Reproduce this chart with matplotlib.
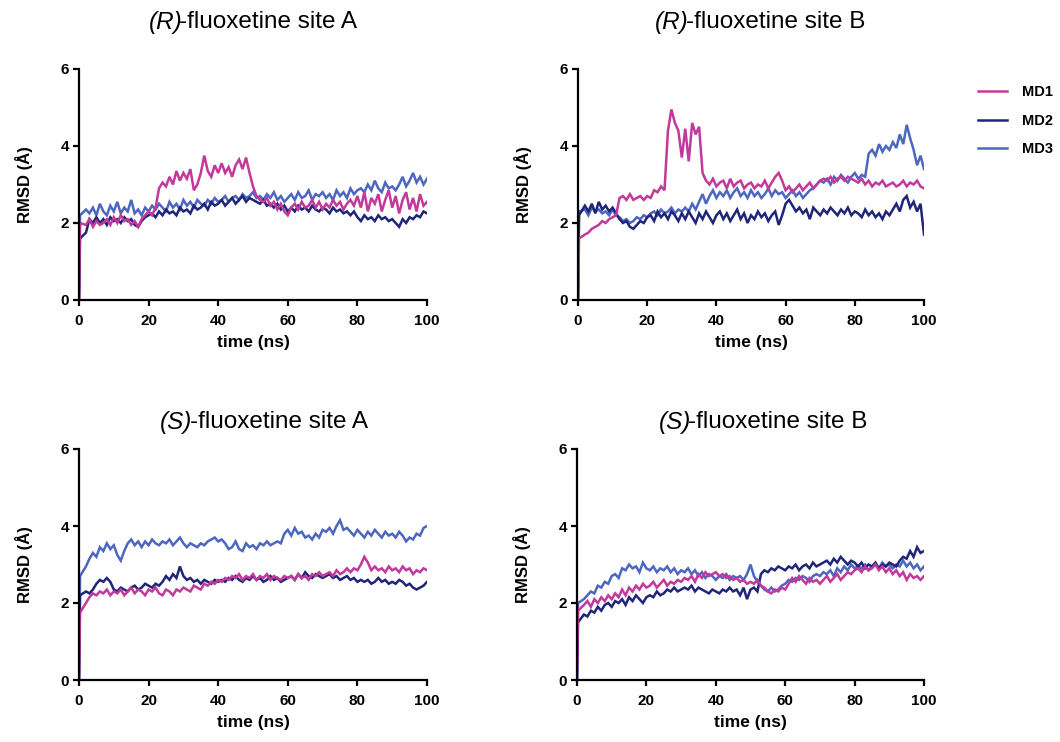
import numpy as np
import matplotlib
matplotlib.use("Agg")
import matplotlib.pyplot as plt
from matplotlib.lines import Line2D

plt.rcParams["font.family"] = ["Liberation Sans", "DejaVu Sans"]

# Simulation time (ns): the trajectory starts at 0 Å and jumps to the first frame
time_ns = [0.0, 0.3] + list(range(2, 101))

# ---- (R)-fluoxetine site A ----
r_a_md1 = [2.0, 1.95, 2.1, 1.9, 2.05, 1.95, 2.0, 2.1, 1.95, 2.15,
           2.0, 2.2, 2.05, 2.1, 1.95, 2.05, 1.9, 2.1, 2.2, 2.3,
           2.2, 2.4, 2.9, 3.05, 2.95, 3.2, 3.0, 3.35, 3.1, 3.3,
           3.15, 3.4, 2.85, 3.0, 3.3, 3.75, 3.35, 3.2, 3.5, 3.3,
           3.55, 3.3, 3.45, 3.2, 3.5, 3.65, 3.4, 3.7, 3.3, 2.95,
           2.7, 2.6, 2.55, 2.65, 2.45, 2.55, 2.35, 2.5, 2.3, 2.2,
           2.4, 2.5, 2.35, 2.55, 2.4, 2.45, 2.6, 2.4, 2.55, 2.35,
           2.5, 2.4, 2.6, 2.45, 2.55, 2.35, 2.5, 2.6, 2.45, 2.7,
           2.4, 2.8, 2.3, 2.65, 2.5, 2.75, 2.3, 2.6, 2.85, 2.4,
           2.7, 2.25, 2.6, 2.8, 2.35, 2.65, 2.3, 2.75, 2.45, 2.55]
r_a_md2 = [1.6, 1.75, 2.1, 2.0, 2.15, 2.0, 2.1, 1.95, 2.15, 2.05,
           2.1, 2.0, 2.15, 2.05, 2.1, 1.95, 1.9, 2.05, 2.15, 2.2,
           2.25, 2.15, 2.3, 2.2, 2.35, 2.25, 2.3, 2.2, 2.4, 2.3,
           2.35, 2.25, 2.45, 2.35, 2.4, 2.5, 2.35, 2.55, 2.45, 2.5,
           2.6, 2.45, 2.55, 2.65, 2.5, 2.6, 2.7, 2.55, 2.65, 2.6,
           2.55, 2.5, 2.6, 2.45, 2.5, 2.4, 2.5, 2.35, 2.45, 2.3,
           2.4, 2.3, 2.45, 2.35, 2.4, 2.3, 2.45, 2.35, 2.3, 2.4,
           2.35, 2.25, 2.4, 2.3, 2.35, 2.25, 2.3, 2.2, 2.3, 2.15,
           2.05, 2.2, 2.1, 2.15, 2.05, 2.2, 2.1, 2.15, 2.05, 2.1,
           2.0, 1.9, 2.1, 2.0, 2.15, 2.1, 2.2, 2.15, 2.3, 2.25]
r_a_md3 = [2.2, 2.35, 2.25, 2.4, 2.2, 2.5, 2.3, 2.2, 2.45, 2.3,
           2.55, 2.25, 2.4, 2.3, 2.6, 2.25, 2.35, 2.2, 2.4, 2.3,
           2.45, 2.35, 2.5, 2.4, 2.3, 2.55, 2.4, 2.5, 2.35, 2.6,
           2.45, 2.55, 2.4, 2.6, 2.5, 2.45, 2.6, 2.5, 2.65, 2.55,
           2.6, 2.7, 2.55, 2.65, 2.7, 2.6, 2.75, 2.65, 2.7, 2.8,
           2.65, 2.7, 2.6, 2.75, 2.65, 2.8, 2.6, 2.7, 2.55, 2.65,
           2.75, 2.6, 2.8, 2.65, 2.7, 2.85, 2.6, 2.75, 2.7, 2.8,
           2.65, 2.75, 2.6, 2.85, 2.7, 2.8, 2.65, 2.9, 2.75, 2.85,
           2.9, 2.8, 3.0, 2.85, 3.1, 2.9, 2.8, 3.05, 2.9, 2.95,
           2.85, 3.0, 3.2, 2.95, 3.1, 3.3, 3.05, 3.2, 3.0, 3.15]

# ---- (R)-fluoxetine site B ----
r_b_md1 = [1.6, 1.7, 1.75, 1.85, 1.9, 1.95, 2.05, 2.0, 2.1, 2.15,
           2.2, 2.65, 2.7, 2.6, 2.75, 2.6, 2.65, 2.7, 2.6, 2.7,
           2.65, 2.85, 2.8, 2.95, 2.85, 4.4, 4.95, 4.6, 4.4, 3.7,
           4.45, 3.6, 4.6, 4.3, 4.5, 3.3, 3.1, 3.0, 3.15, 2.95,
           3.05, 3.1, 2.9, 3.15, 2.95, 3.05, 3.1, 2.9, 3.0, 3.05,
           2.9, 3.0, 2.95, 3.1, 2.9, 3.05, 3.2, 3.3, 3.1, 2.85,
           2.95, 2.8, 2.9, 3.0, 2.85, 2.95, 3.05, 2.9, 3.0, 3.1,
           3.15, 3.1, 3.2, 3.05, 3.15, 3.2, 3.1, 3.2, 3.15, 3.1,
           3.05, 3.15, 3.0, 3.1, 2.95, 3.05, 3.0, 3.1, 2.95, 3.0,
           3.05, 2.95, 3.0, 3.1, 2.95, 3.05, 3.0, 3.1, 2.95, 2.9]
r_b_md2 = [2.2, 2.45, 2.3, 2.5, 2.25, 2.55, 2.35, 2.45, 2.3, 2.4,
           2.25, 2.1, 2.0, 2.05, 1.9, 1.85, 1.95, 2.05, 2.0, 2.15,
           2.2, 2.05, 2.3, 2.15, 2.25, 2.1, 2.3, 2.2, 2.05, 2.25,
           2.1, 2.3, 2.15, 2.0, 2.25, 2.1, 2.3, 2.15, 2.0, 2.2,
           2.3, 2.1, 2.25, 2.05, 2.2, 2.35, 2.1, 2.25, 2.0, 2.2,
           2.1, 2.3, 2.15, 2.25, 2.05, 2.2, 2.3, 1.95, 2.2, 2.5,
           2.6, 2.45, 2.3, 2.4, 2.25, 2.35, 2.1, 2.4, 2.3, 2.2,
           2.35, 2.25, 2.4, 2.3, 2.2, 2.35, 2.25, 2.4, 2.2, 2.3,
           2.25, 2.15, 2.35, 2.2, 2.3, 2.15, 2.25, 2.1, 2.3, 2.2,
           2.35, 2.5, 2.3, 2.6, 2.7, 2.4, 2.55, 2.3, 2.5, 1.7]
r_b_md3 = [2.3, 2.35, 2.2, 2.4, 2.3, 2.35, 2.25, 2.3, 2.2, 2.35,
           2.2, 2.15, 2.05, 2.1, 2.0, 2.05, 2.15, 2.1, 2.2, 2.15,
           2.25, 2.3, 2.2, 2.35, 2.25, 2.3, 2.4, 2.25, 2.35, 2.3,
           2.4, 2.3, 2.5, 2.35, 2.55, 2.75, 2.5, 2.7, 2.85, 2.65,
           2.8, 2.7, 2.85, 2.65, 2.8, 2.9, 2.7, 2.8, 2.65, 2.85,
           2.7, 2.8, 2.65, 2.75, 2.9, 2.7, 2.85, 2.75, 2.8, 2.65,
           2.75, 2.85, 2.7, 2.8, 2.65, 2.75, 2.85, 2.9, 3.0, 3.1,
           3.05, 3.15, 3.0, 3.2, 3.1, 3.25, 3.15, 3.05, 3.2, 3.3,
           3.15, 3.25, 3.2, 3.8, 3.9, 3.75, 4.05, 3.85, 4.0, 3.9,
           4.1, 3.95, 4.3, 4.05, 4.55, 4.2, 3.9, 3.5, 3.75, 3.4]

# ---- (S)-fluoxetine site A ----
s_a_md1 = [1.75, 2.0, 2.15, 2.25, 2.2, 2.3, 2.25, 2.35, 2.2, 2.3,
           2.25, 2.35, 2.2, 2.3, 2.4, 2.25, 2.35, 2.3, 2.2, 2.35,
           2.3, 2.4, 2.25, 2.2, 2.35, 2.3, 2.2, 2.35, 2.3, 2.4,
           2.35, 2.3, 2.45, 2.4, 2.35, 2.5, 2.45, 2.55, 2.5, 2.6,
           2.55, 2.65, 2.6, 2.7, 2.65, 2.75, 2.6, 2.7, 2.65, 2.75,
           2.6, 2.7, 2.65, 2.75, 2.6, 2.7, 2.65, 2.6, 2.7, 2.65,
           2.7, 2.6, 2.75, 2.65, 2.7, 2.6, 2.75, 2.7, 2.8, 2.7,
           2.75, 2.8, 2.7, 2.85, 2.75, 2.8, 2.9, 2.8, 2.9, 2.85,
           3.0, 3.2, 3.05, 2.85, 2.95, 2.85, 2.9, 2.8, 2.95, 2.85,
           2.9, 2.8, 2.95, 2.85, 2.9, 2.75, 2.85, 2.8, 2.9, 2.85]
s_a_md2 = [2.2, 2.3, 2.25, 2.35, 2.5, 2.6, 2.55, 2.65, 2.55, 2.35,
           2.3, 2.4, 2.35, 2.3, 2.4, 2.45, 2.35, 2.4, 2.5, 2.45,
           2.4, 2.5, 2.45, 2.55, 2.7, 2.6, 2.75, 2.65, 2.95, 2.7,
           2.6, 2.65, 2.55, 2.6, 2.5, 2.6, 2.55, 2.5, 2.6, 2.55,
           2.6, 2.55, 2.65, 2.6, 2.7, 2.6, 2.55, 2.65, 2.6, 2.7,
           2.6, 2.65, 2.55, 2.6, 2.7, 2.6, 2.65, 2.55, 2.6, 2.65,
           2.7, 2.6, 2.75, 2.65, 2.8, 2.7, 2.65, 2.75, 2.7, 2.65,
           2.7, 2.75, 2.65, 2.7, 2.6, 2.65, 2.7, 2.6, 2.65, 2.55,
           2.6, 2.55, 2.6, 2.5, 2.55, 2.65, 2.55, 2.6, 2.5, 2.55,
           2.5, 2.6, 2.55, 2.45, 2.5, 2.4, 2.35, 2.4, 2.45, 2.55]
s_a_md3 = [2.7, 2.95, 3.15, 3.3, 3.2, 3.45, 3.35, 3.55, 3.4, 3.5,
           3.25, 3.1, 3.35, 3.55, 3.65, 3.5, 3.6, 3.45, 3.6, 3.5,
           3.65, 3.55, 3.5, 3.6, 3.55, 3.65, 3.5, 3.6, 3.7, 3.55,
           3.45, 3.55, 3.5, 3.45, 3.55, 3.5, 3.6, 3.65, 3.7, 3.6,
           3.65, 3.55, 3.4, 3.45, 3.6, 3.4, 3.35, 3.55, 3.45, 3.5,
           3.4, 3.55, 3.5, 3.6, 3.5, 3.55, 3.6, 3.55, 3.8, 3.9,
           3.75, 3.95, 3.8, 3.85, 3.7, 3.75, 3.65, 3.8, 3.7, 3.9,
           3.85, 3.95, 3.8, 4.0, 4.15, 3.9, 3.95, 3.85, 3.75, 3.9,
           3.8, 3.7, 3.85, 3.75, 3.9, 3.8, 3.7, 3.85, 3.75, 3.8,
           3.7, 3.85, 3.75, 3.6, 3.7, 3.65, 3.8, 3.75, 3.95, 4.0]

# ---- (S)-fluoxetine site B ----
s_b_md1 = [1.8, 1.95, 2.05, 1.9, 2.1, 2.0, 2.15, 2.05, 2.2, 2.1,
           2.25, 2.15, 2.35, 2.2, 2.4, 2.3, 2.45, 2.35, 2.5, 2.4,
           2.45, 2.55, 2.4, 2.5, 2.6, 2.45, 2.55, 2.5, 2.6, 2.55,
           2.65, 2.6, 2.7, 2.55, 2.75, 2.65, 2.8, 2.7, 2.75, 2.8,
           2.7, 2.75, 2.65, 2.7, 2.6, 2.65, 2.55, 2.6, 2.5, 2.55,
           2.5, 2.6, 2.45, 2.4, 2.3, 2.25, 2.35, 2.3, 2.4, 2.35,
           2.5, 2.65, 2.55, 2.7, 2.6, 2.5, 2.65, 2.55, 2.6, 2.5,
           2.6, 2.7, 2.55, 2.65, 2.75, 2.6, 2.7, 2.8, 2.75, 2.85,
           2.9, 2.8, 2.95, 2.85, 2.9, 3.0, 2.85, 2.95, 2.8, 2.9,
           2.75, 2.85, 2.7, 2.8, 2.6, 2.75, 2.65, 2.7, 2.6, 2.7]
s_b_md2 = [1.5, 1.7, 1.65, 1.8, 1.75, 1.9, 1.8, 1.95, 2.0, 1.9,
           2.05, 2.0, 2.1, 1.95, 2.15, 2.05, 2.2, 2.1, 2.0, 2.15,
           2.2, 2.15, 2.3, 2.2, 2.25, 2.35, 2.3, 2.4, 2.3, 2.35,
           2.4, 2.35, 2.45, 2.3, 2.4, 2.35, 2.3, 2.25, 2.35, 2.3,
           2.25, 2.35, 2.3, 2.4, 2.3, 2.35, 2.2, 2.4, 2.1, 2.35,
           2.4, 2.3, 2.75, 2.85, 2.8, 2.9, 2.85, 2.95, 2.9, 2.85,
           2.95, 2.9, 3.0, 2.85, 2.95, 3.0, 2.9, 3.05, 2.95, 3.0,
           3.05, 3.1, 3.0, 3.15, 3.05, 3.2, 3.1, 3.0, 3.1, 3.05,
           2.95, 3.05, 2.9, 3.0, 2.95, 3.05, 2.9, 3.0, 2.95, 3.05,
           3.0, 2.95, 3.1, 3.2, 3.15, 3.35, 3.2, 3.45, 3.3, 3.35]
s_b_md3 = [2.0, 2.1, 2.2, 2.3, 2.25, 2.45, 2.4, 2.55, 2.5, 2.7,
           2.75, 2.65, 2.9, 2.85, 3.0, 2.9, 2.95, 2.8, 3.05, 2.9,
           2.85, 2.95, 2.8, 2.9, 2.85, 2.95, 2.8, 2.9, 2.75, 2.85,
           2.8, 2.9, 2.75, 2.85, 2.7, 2.8, 2.65, 2.75, 2.7, 2.6,
           2.7, 2.65, 2.75, 2.6, 2.7, 2.65, 2.7, 2.6, 2.75, 3.0,
           2.7, 2.55, 2.45, 2.35, 2.3, 2.4, 2.3, 2.35, 2.45, 2.5,
           2.6, 2.55, 2.65, 2.6, 2.7, 2.65, 2.55, 2.7, 2.75, 2.7,
           2.8, 2.75, 2.85, 2.7, 2.9, 2.8, 2.95, 2.85, 3.0, 2.9,
           2.95, 2.9, 3.0, 2.85, 2.95, 3.0, 2.9, 3.05, 2.95, 3.0,
           2.9, 3.0, 2.95, 3.1, 2.95, 3.05, 2.9, 3.0, 2.85, 2.95]

run_labels = ["MD1", "MD2", "MD3"]
run_colors = ["#c2399b", "#1f2578", "#4d66c0"]

# title: (italic enantiomer prefix, rest of the title)
panels = [
    (("(R)", "-fluoxetine site A"), [r_a_md1, r_a_md2, r_a_md3]),
    (("(R)", "-fluoxetine site B"), [r_b_md1, r_b_md2, r_b_md3]),
    (("(S)", "-fluoxetine site A"), [s_a_md1, s_a_md2, s_a_md3]),
    (("(S)", "-fluoxetine site B"), [s_b_md1, s_b_md2, s_b_md3]),
]

W, H = 1060, 742
fig = plt.figure(figsize=(W / 100, H / 100), dpi=100)
renderer = fig.canvas.get_renderer()

# axes boxes in pixels: (left, top, right, bottom)
boxes = [(79, 69, 427, 300), (578, 69, 924, 300),
         (79, 449, 427, 680), (577, 449, 924, 680)]
title_pos = [(253, 22), (760, 22), (264, 422), (763, 422)]


def two_part_title(cx, cy, prefix, rest, size, kern=3):
    """Centre an italic prefix followed by upright text at (cx, cy) pixels."""
    y = 1 - cy / H
    t1 = fig.text(0, y, prefix, fontsize=size, style="italic",
                  ha="left", va="center")
    t2 = fig.text(0, y, rest, fontsize=size, ha="left", va="center")
    w1 = t1.get_window_extent(renderer).width - kern
    w2 = t2.get_window_extent(renderer).width
    x0 = cx - (w1 + w2) / 2
    t1.set_x(x0 / W)
    t2.set_x((x0 + w1) / W)


for (title, series), (l, t, r, b), (tx, ty) in zip(panels, boxes, title_pos):
    ax = fig.add_axes([l / W, 1 - b / H, (r - l) / W, (b - t) / H])
    # draw MD3 first so MD1 sits on top
    for idx in (2, 1, 0):
        ax.plot(time_ns, [0.0] + series[idx], color=run_colors[idx],
                lw=1.8, solid_joinstyle="miter")
    ax.set_xlim(0, 100)
    ax.set_ylim(0, 6)
    ax.set_xticks(range(0, 101, 20))
    ax.set_yticks([0, 2, 4, 6])
    for side in ("top", "right"):
        ax.spines[side].set_visible(False)
    for side in ("left", "bottom"):
        ax.spines[side].set_linewidth(1.6)
    ax.tick_params(direction="out", length=4, width=1.6, labelsize=11)
    ax.tick_params(axis="x", pad=6)
    ax.tick_params(axis="y", pad=3)
    for lab in ax.get_xticklabels() + ax.get_yticklabels():
        lab.set_fontweight("bold")
    ax.set_xlabel("time (ns)", fontsize=12.5, fontweight="bold", labelpad=5)
    ax.set_ylabel("RMSD (Å)", fontsize=12, fontweight="bold", labelpad=20)
    two_part_title(tx, ty, title[0], title[1], 17.5)

handles = [Line2D([], [], color=c, lw=1.8) for c in run_colors]
fig.legend(handles, run_labels, loc="upper left",
           bbox_to_anchor=(965 / W, 1 - 72 / H), frameon=False,
           handlelength=2.0, handletextpad=1.0, labelspacing=1.0,
           prop={"weight": "bold", "size": 10.5})

fig.savefig("out.png", dpi=100)
